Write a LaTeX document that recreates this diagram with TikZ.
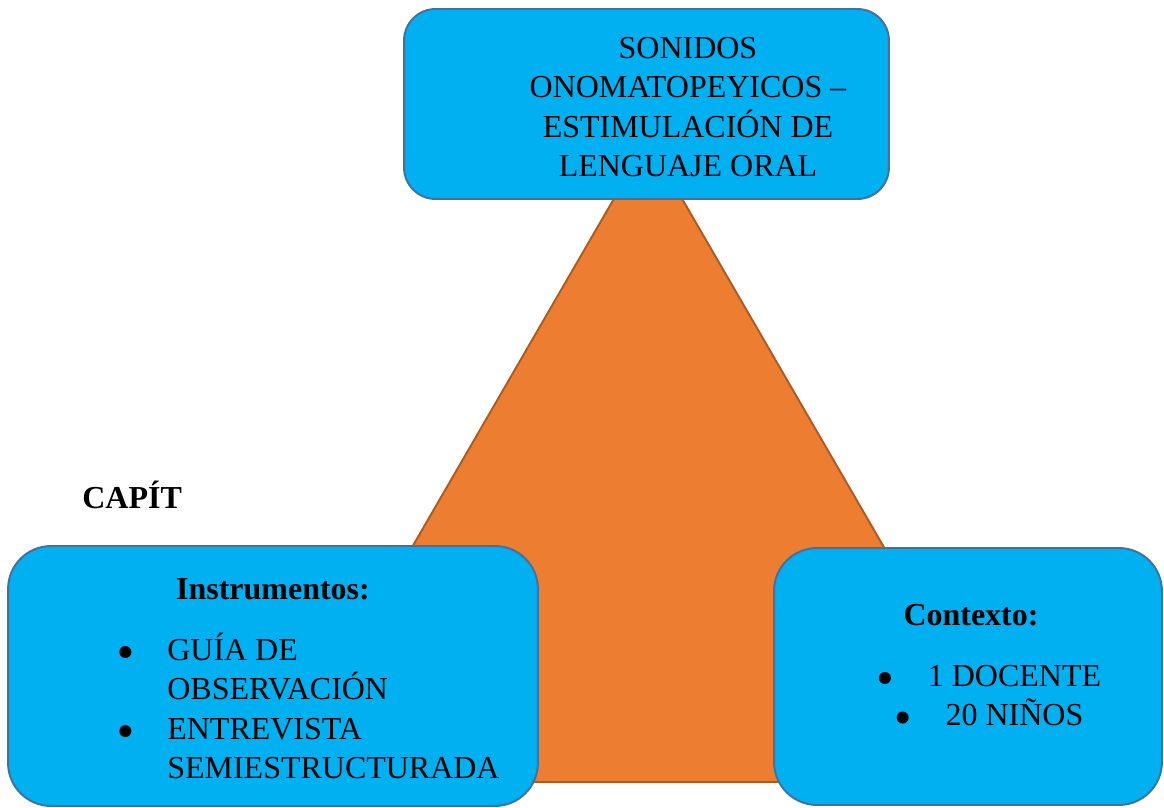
\documentclass[tikz,border=0pt]{standalone}
\usepackage{fontspec}
\setmainfont{Liberation Serif}
\definecolor{cajaazul}{HTML}{00B0F0}
\definecolor{bordeazul}{HTML}{41719C}
\definecolor{naranja}{HTML}{ED7D31}
\definecolor{bordenaranja}{HTML}{AE5A21}
\newcommand{\punto}{\tikz[baseline=-0.16cm]\fill (0,0) circle (0.12cm);}
\newcommand{\vineta}{\punto\hspace{0.74cm}}
\begin{document}
\begin{tikzpicture}[x=0.02cm,y=-0.02cm,line join=round,
	font=\fontsize{18.2}{22.5}\selectfont,
	caja/.style={draw=bordeazul,fill=cajaazul,line width=1.1pt,rounded corners=0.86cm,inner sep=0pt},
	titulo/.style={font=\fontsize{18.2}{22.5}\selectfont\bfseries,inner sep=0pt,anchor=base}]
		\useasboundingbox (0,0) rectangle (1164,808);
		\path (648,140)coordinate (A)
		(276,782)coordinate (B)
		(1020,782)coordinate (C);
		\draw[draw=bordenaranja,fill=naranja,line width=1.1pt] (A)--(B)--(C)--cycle;
		\node[caja,rounded corners=0.63cm,minimum width=9.7cm,minimum height=3.8cm] (tema) at (646.5,104) {};
		\node[caja,minimum width=10.6cm,minimum height=5.2cm] (instr) at (273,676) {};
		\node[caja,minimum width=7.76cm,minimum height=5.14cm] (ctx) at (968,676.5) {};
		\node[align=center,inner sep=0pt] (temaTxt) at (688,107) {SONIDOS\\ONOMATOPEYICOS --\\ESTIMULACIÓN DE\\LENGUAJE ORAL};
		\node[titulo,anchor=base west] (cap) at (82,508) {CAPÍT};
		\node[titulo] (instrTit) at (273,599) {Instrumentos:};
		\node[titulo] (ctxTit) at (971,625) {Contexto:};
		\node[inner sep=0pt,anchor=base west] (instrLista) at (119,660) {\begin{tabular}[t]{@{}l@{\hspace{0.72cm}}l@{}}
			\punto & GUÍA DE\\
			& OBSERVACIÓN\\
			\punto & ENTREVISTA\\
			& SEMIESTRUCTURADA
		\end{tabular}};
		\node[inner sep=0pt,anchor=base] (ctxLista) at (990,686) {\begin{tabular}[t]{@{}c@{}}
			\vineta 1 DOCENTE\\
			\vineta 20 NIÑOS
		\end{tabular}};
\end{tikzpicture}
\end{document}
